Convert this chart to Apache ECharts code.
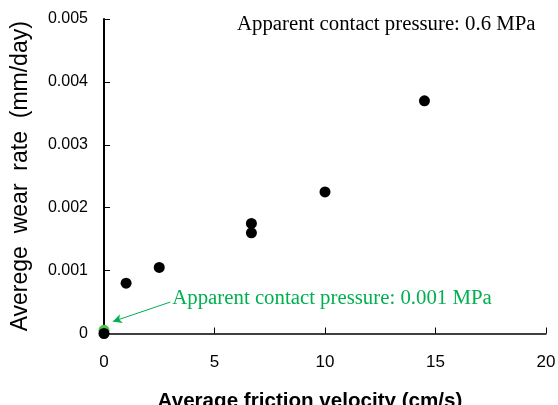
<!DOCTYPE html>
<html>
<head>
<meta charset="utf-8">
<script src="https://cdn.jsdelivr.net/npm/echarts@6/dist/echarts.min.js"></script>
<style>
  html, body { margin: 0; padding: 0; background: #fff; }
  #chart { width: 558px; height: 405px; }
</style>
</head>
<body>
<div id="chart"></div>
<script>
// Wear measurements at 0.6 MPa: friction velocity (cm/s) vs. wear rate (mm/day)
const velocity = [0, 1, 2.5, 6.67, 6.67, 10, 14.5];
const wearRate = [0, 0.0008, 0.00105, 0.00175, 0.0016, 0.00225, 0.0037];

// Single measurement at 0.001 MPa
const lowVelocity = [0];
const lowWearRate = [0.00005];

// Axis ticks
const xTicks = [0, 5, 10, 15, 20];
const yTickLabels = ['0', '0.001', '0.002', '0.003', '0.004', '0.005'];

// Annotation arrow (data coordinates) and its caption
const arrowFrom = [3.0, 0.0005];
const arrowTo = [0.4, 0.00019];
const highLabel = 'Apparent contact pressure: 0.6 MPa';
const lowLabel = 'Apparent contact pressure: 0.001 MPa';

const GREEN = '#00B050';
const sans = '"Liberation Sans", Arial, sans-serif';
const serif = '"Liberation Serif", "Times New Roman", serif';

const chart = echarts.init(document.getElementById('chart'), null, { renderer: 'canvas' });

chart.setOption({
  animation: false,
  backgroundColor: '#ffffff',
  grid: { left: 104, right: 12, top: 19, bottom: 71.5, containLabel: false, outerBoundsMode: 'none' },
  xAxis: {
    type: 'value',
    min: xTicks[0],
    max: xTicks[xTicks.length - 1],
    interval: xTicks[1] - xTicks[0],
    name: 'Average friction velocity (cm/s)',
    nameLocation: 'middle',
    nameGap: 57,
    nameTextStyle: { fontFamily: sans, fontSize: 20.6, fontWeight: 'bold', color: '#000', padding: [0, 30, 0, 0] },
    axisLine: { onZero: false, lineStyle: { color: '#000', width: 1.5 } },
    axisTick: { inside: true, length: 6, lineStyle: { color: '#000', width: 1 } },
    axisLabel: { fontFamily: sans, fontSize: 17, color: '#000', margin: 20 },
    splitLine: { show: false }
  },
  yAxis: {
    type: 'value',
    min: 0,
    max: 0.005,
    interval: 0.001,
    name: 'Averege  wear  rate  (mm/day)',
    nameLocation: 'middle',
    nameRotate: 90,
    nameGap: 72,
    nameTextStyle: { fontFamily: sans, fontSize: 23, color: '#000' },
    axisLine: { show: true, lineStyle: { color: '#000', width: 2 } },
    axisTick: { show: true, inside: true, length: 6, lineStyle: { color: '#000', width: 1 } },
    axisLabel: {
      fontFamily: sans, fontSize: 16, color: '#000', margin: 16,
      formatter: (v) => yTickLabels[Math.round(v / 0.001)]
    },
    splitLine: { show: false }
  },
  graphic: [{
    type: 'text',
    left: 237,
    top: 14,
    style: { text: highLabel, font: '20.8px ' + serif, fill: '#000' }
  }],
  series: [
    {
      type: 'scatter',
      data: lowVelocity.map((x, i) => [x, lowWearRate[i]]),
      symbolSize: 11,
      clip: false,
      z: 2,
      itemStyle: { color: '#4CC04C', opacity: 1 },
      markLine: {
        silent: true,
        symbol: ['none', 'arrow'],
        symbolSize: [7, 9],
        lineStyle: { color: GREEN, width: 1, type: 'solid' },
        label: { show: false },
        data: [[{ coord: arrowFrom }, { coord: arrowTo }]]
      },
      markPoint: {
        silent: true,
        symbol: 'circle',
        symbolSize: 0,
        label: {
          show: true,
          position: 'right',
          distance: 2,
          offset: [0, -4],
          formatter: lowLabel,
          fontFamily: serif,
          fontSize: 20.8,
          color: GREEN
        },
        data: [{ coord: arrowFrom }]
      }
    },
    {
      type: 'scatter',
      data: velocity.map((x, i) => [x, wearRate[i]]),
      symbolSize: 11,
      clip: false,
      z: 3,
      itemStyle: { color: '#000', opacity: 1 }
    }
  ]
});
</script>
</body>
</html>
